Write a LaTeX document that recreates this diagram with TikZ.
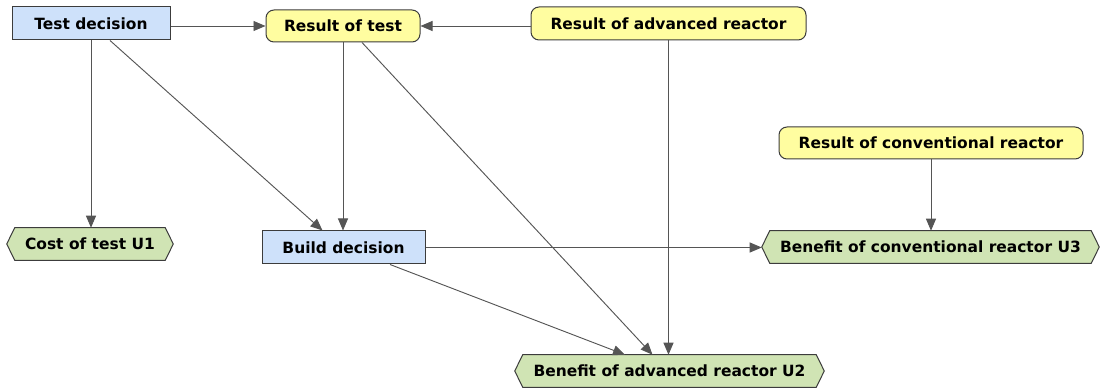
\documentclass[tikz,border=0pt]{standalone}
\usepackage{fontspec}
\setmainfont{DejaVu Sans}
\usetikzlibrary{arrows.meta,calc,backgrounds}
\definecolor{decfill}{RGB}{206,225,250}
\definecolor{chancefill}{RGB}{255,253,160}
\definecolor{utilfill}{RGB}{208,228,180}
\definecolor{edgeline}{RGB}{85,85,85}
\definecolor{boxline}{RGB}{60,60,60}
\begin{document}
\begin{tikzpicture}[x=0.75pt,y=-0.75pt,
  every node/.style={font=\fontsize{11.6}{14}\selectfont\bfseries, text=black, inner sep=0pt},
  sz/.style 2 args={minimum width=#1*0.75pt, minimum height=#2*0.75pt},
  decision/.style={draw=boxline, line width=0.75pt, fill=decfill},
  chance/.style={draw=boxline, line width=0.75pt, fill=chancefill, rounded corners=6pt},
  utility/.style={},
  hexagon/.style={draw=boxline, line width=0.75pt, fill=utilfill},
  arr/.style={draw=edgeline, line width=0.7pt, -{Triangle[length=9pt,width=7.5pt]}},
]
\useasboundingbox (0,0) rectangle (1100,391);

% decision nodes
\node[decision, sz={158}{33}] (td) at (91,23.5) {Test decision};
\node[decision, sz={163}{33}] (bd) at (343.5,247.5) {Build decision};

% chance nodes
\node[chance, sz={154}{32}] (rt) at (343,26) {Result of test};
\node[chance, sz={275}{33}] (ra) at (668.5,23.5) {Result of advanced reactor};
\node[chance, sz={304}{32}] (rc) at (931,143) {Result of conventional reactor};

% utility nodes (hexagonal outline drawn behind the text)
\node[utility, sz={166}{32}] (u1) at (90,244) {Cost of test U1};
\node[utility, sz={337}{32}] (u3) at (930.5,247) {Benefit of conventional reactor U3};
\node[utility, sz={309}{32}] (u2) at (669.5,371) {Benefit of advanced reactor U2};

\begin{scope}[on background layer]
  \foreach \n in {u1,u3,u2}{
    \path[hexagon] ($(\n.north west)+(8,0)$) -- ($(\n.north east)+(-8,0)$) -- (\n.east)
      -- ($(\n.south east)+(-8,0)$) -- ($(\n.south west)+(8,0)$) -- (\n.west) -- cycle;
  }
\end{scope}

% connectors
\draw[arr] (td.east |- rt.west) -- (rt.west);
\draw[arr] (ra.west |- rt.east) -- (rt.east);
\draw[arr] (td.south) -- (td.south |- u1.north);
\draw[arr] ($(td.south)+(19,0)$) -- ($(bd.north)+(-21,0)$);
\draw[arr] (rt.south) -- (rt.south |- bd.north);
\draw[arr] ($(rt.south)+(19,0)$) -- ($(u2.north)+(-17,0)$);
\draw[arr] (ra.south) -- (ra.south |- u2.north);
\draw[arr] (bd.east) -- (bd.east -| u3.west);
\draw[arr] ($(bd.south)+(46.5,0)$) -- ($(u2.north)+(-44.5,0)$);
\draw[arr] (rc.south) -- (rc.south |- u3.north);
\end{tikzpicture}
\end{document}
